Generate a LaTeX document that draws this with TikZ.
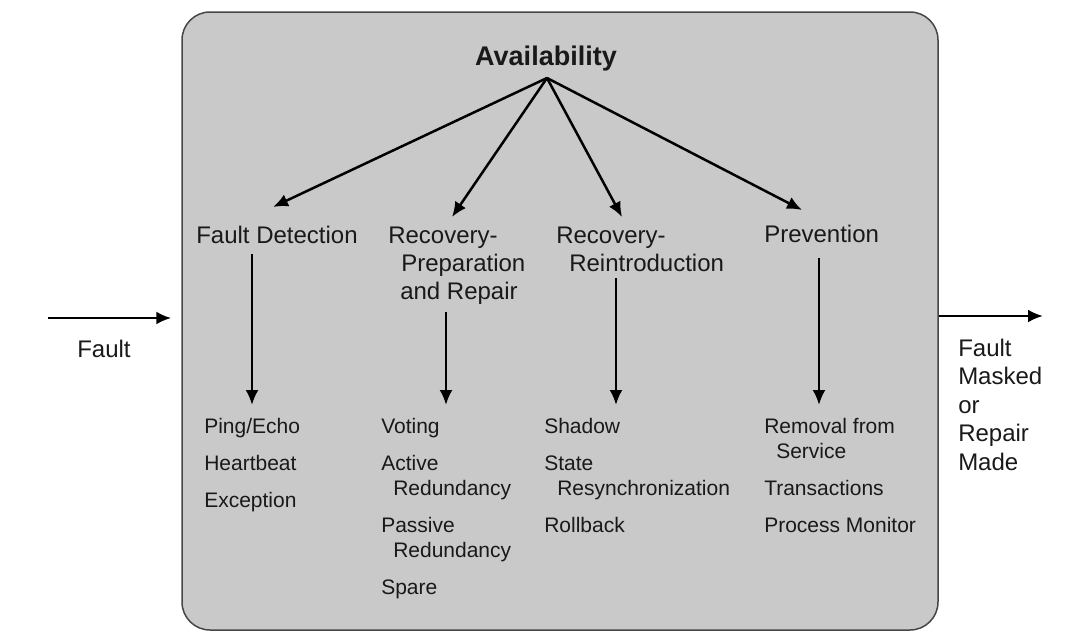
\documentclass[tikz,border=0pt]{standalone}
\usepackage{fontspec}
\setmainfont{Liberation Sans}
\usetikzlibrary{arrows.meta}
\definecolor{panelgray}{RGB}{201,201,201}
\definecolor{rimgray}{RGB}{70,70,70}
\definecolor{inkgray}{RGB}{25,25,25}
\begin{document}
\begin{tikzpicture}[->,>={Latex[length=15pt,width=13pt]},line width=2.5pt,x=1pt,y=-1pt,
  cat/.style={inner sep=0pt,anchor=base west,align=left,font=\fontsize{24}{28}\selectfont,text=inkgray},
  lst/.style={inner sep=0pt,anchor=base west,align=left,font=\fontsize{21}{25}\selectfont,text=inkgray}]

\useasboundingbox (0,0) rectangle (1088,643);

\node (box) [draw=rimgray,fill=panelgray,line width=1.5pt,rounded corners=28pt,
  minimum width=756pt,minimum height=618pt] at (560,321) {};

\node (avail) [inner sep=0pt,anchor=base,text=inkgray,
  font=\bfseries\fontsize{27}{32}\selectfont] at (546,65) {Availability};

% multi-line nodes sit on the baseline of their last line
\node (fd) [cat] at (195,243) {Fault Detection};
\node (rpr) [cat] at (387,299) {Recovery-\\\hspace*{13pt}Preparation\\\hspace*{12pt}and Repair};
\node (rri) [cat] at (555,271) {Recovery-\\\hspace*{13pt}Reintroduction};
\node (prev) [cat] at (763,242) {Prevention};

\node (fdlist) [lst] at (203,507) {Ping/Echo\\[12pt]Heartbeat\\[12pt]Exception};
\node (rprlist) [lst] at (380,594) {Voting\\[12pt]Active\\\hspace*{12pt}Redundancy\\[12pt]Passive\\\hspace*{12pt}Redundancy\\[12pt]Spare};
\node (rrilist) [lst] at (543,532) {Shadow\\[12pt]State\\\hspace*{13pt}Resynchronization\\[12pt]Rollback};
\node (prevlist) [lst] at (763,532) {Removal from\\\hspace*{12pt}Service\\[12pt]Transactions\\[12pt]Process Monitor};

\node (fault) [cat] at (76,357) {Fault};
\node (done) [cat,font=\fontsize{24}{28.5}\selectfont] at (957,470) {Fault\\Masked\\or\\Repair\\Made};

% fan out from the top label
\coordinate (apex) at (547,78);
\coordinate (fdtip) at (273,207);
\coordinate (rprtip) at (452,217);
\coordinate (rritip) at (622,217);
\coordinate (prevtip) at (802,210);
\foreach \t in {fdtip,rprtip,rritip,prevtip}
  \draw (apex) -- (\t);

% down to the tactics
\coordinate (fdin) at (252,405);
\coordinate (rprin) at (446,405);
\coordinate (rriin) at (616,405);
\coordinate (previn) at (819,405);
\draw (fdin |- fd.south) ++(0,10) -- (fdin);
\draw (rprin |- rpr.south) ++(0,7) -- (rprin);
\draw (rriin |- rri.south) ++(0,6) -- (rriin);
\draw (previn |- prev.south) ++(0,15) -- (previn);

\coordinate (faultin) at (48,318);
\draw [shorten >=10pt] (faultin) -- (faultin -| box.west);
\coordinate (maskout) at (1043,316);
\draw (maskout -| box.east) -- (maskout);

\end{tikzpicture}
\end{document}
